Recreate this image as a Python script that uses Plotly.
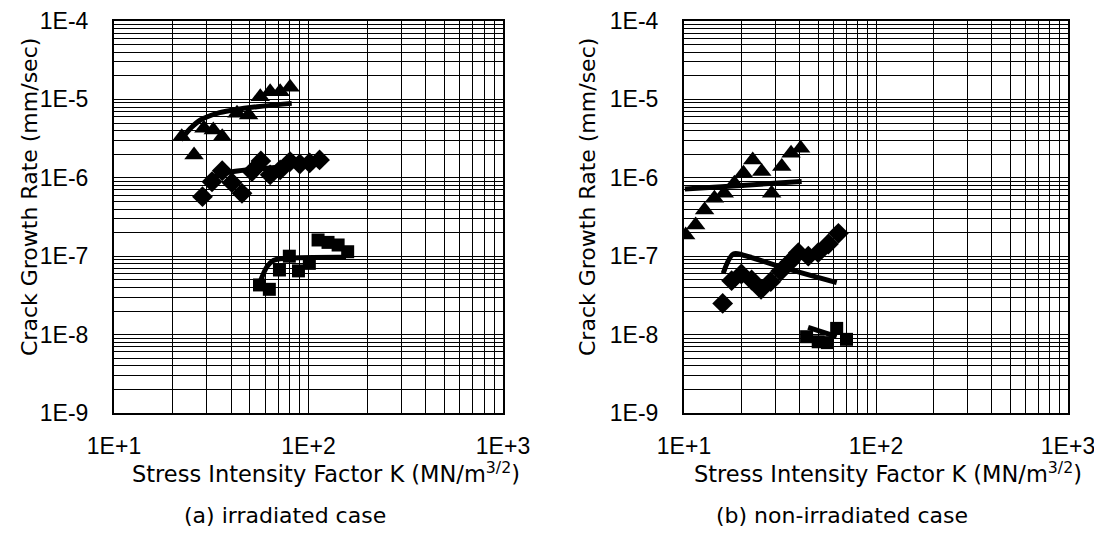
import plotly.graph_objects as go

# ---------------- data ----------------
# (a) irradiated case
a_tri_k = [22.3, 25.8, 29.0, 32.4, 36.0, 42.9, 49.2, 56.5, 63.5, 71.5, 80.4]
a_tri_v = [3.34e-6, 1.95e-6, 4.3e-6, 4.07e-6, 3.34e-6, 6.65e-6, 6.33e-6, 1.08e-5, 1.25e-5, 1.25e-5, 1.43e-5]
a_tri_fit_k = [22.0, 24.8, 27.8, 33.9, 41.2, 54.3, 82.0]
a_tri_fit_v = [3.03e-6, 4.3e-6, 5.46e-6, 6.65e-6, 7.33e-6, 8.07e-6, 8.9e-6]

a_dia_k = [28.5, 31.9, 36.0, 40.4, 45.5, 51.2, 56.9, 63.5, 71.5, 80.4, 90.2, 101.4, 114.0]
a_dia_v = [5.74e-7, 8.9e-7, 1.23e-6, 8.66e-7, 6.34e-7, 1.2e-6, 1.64e-6, 1.09e-6, 1.26e-6, 1.61e-6, 1.5e-6, 1.55e-6, 1.69e-6]
a_dia_fit_k = [31.9, 41.2, 61.1, 114.0]
a_dia_fit_v = [1.03e-6, 1.2e-6, 1.32e-6, 1.53e-6]

a_sq_k = [56.0, 62.9, 70.9, 79.7, 88.8, 101.0, 112.0, 126.0, 142.0, 159.0]
a_sq_v = [4.3e-8, 3.78e-8, 6.67e-8, 1.0e-7, 6.5e-8, 8.1e-8, 1.61e-7, 1.5e-7, 1.39e-7, 1.14e-7]
a_sq_fit_k = [56.5, 61.1, 66.0, 77.4, 156.0]
a_sq_fit_v = [4.73e-8, 7.3e-8, 8.8e-8, 9.4e-8, 9.7e-8]

# (b) non-irradiated case
b_tri_k = [10.2, 11.5, 12.8, 14.4, 16.2, 18.3, 20.4, 22.8, 25.4, 28.6, 32.3, 36.1, 40.5]
b_tri_v = [1.86e-7, 2.5e-7, 3.88e-7, 5.47e-7, 6.34e-7, 8.5e-7, 1.14e-6, 1.69e-6, 1.2e-6, 6.34e-7, 1.39e-6, 2.05e-6, 2.38e-6]
b_tri_fit_k = [10.1, 20.0, 41.0]
b_tri_fit_v = [7.2e-7, 8.0e-7, 9.0e-7]

b_dia_k = [15.9, 17.7, 19.9, 22.5, 25.2, 28.3, 31.9, 35.7, 39.4, 44.4, 50.0, 56.5, 63.7]
b_dia_v = [2.5e-8, 4.88e-8, 5.93e-8, 4.97e-8, 3.78e-8, 4.73e-8, 6.47e-8, 8.5e-8, 1.11e-7, 1.0e-7, 1.11e-7, 1.43e-7, 1.96e-7]
b_dia_fit_k = [16.0, 18.1, 20.4, 31.6, 62.4]
b_dia_fit_v = [6.05e-8, 1.07e-7, 1.03e-7, 7.35e-8, 4.6e-8]

b_sq_k = [43.5, 50.0, 55.9, 62.4, 70.2]
b_sq_v = [9.4e-9, 8.1e-9, 7.9e-9, 1.2e-8, 8.7e-9]
b_sq_fit_k = [44.3, 62.4]
b_sq_fit_v = [1.24e-8, 9.4e-9]

# tick labels
x_decades = [10, 100, 1000]
x_labels = ["1E+1", "1E+2", "1E+3"]
y_decades = [1e-9, 1e-8, 1e-7, 1e-6, 1e-5, 1e-4]
y_labels = ["1E-9", "1E-8", "1E-7", "1E-6", "1E-5", "1E-4"]

y_title = "Crack Growth Rate (mm/sec)"
x_title = "Stress Intensity Factor K (MN/m<sup>3/2</sup>)"
captions = ["(a) irradiated case", "(b) non-irradiated case"]

# ---------------- figure ----------------
OFF = 8                      # default page-body margin of the html page
W, H = 1102 - OFF, 548 - OFF
TICKFONT = "Liberation Sans, Arial, sans-serif"
TITLEFONT = "DejaVu Sans, sans-serif"


def minor_vals(decades):
    vals = []
    for d in decades[:-1]:
        for m in range(2, 10):
            vals.append(d * m)
    return vals


fig = go.Figure()

panels = [
    (dict(tri=(a_tri_k, a_tri_v), dia=(a_dia_k, a_dia_v), sq=(a_sq_k, a_sq_v),
          fits=[(a_tri_fit_k, a_tri_fit_v), (a_dia_fit_k, a_dia_fit_v), (a_sq_fit_k, a_sq_fit_v)]),
     "x", "y"),
    (dict(tri=(b_tri_k, b_tri_v), dia=(b_dia_k, b_dia_v), sq=(b_sq_k, b_sq_v),
          fits=[(b_tri_fit_k, b_tri_fit_v), (b_dia_fit_k, b_dia_fit_v), (b_sq_fit_k, b_sq_fit_v)]),
     "x2", "y2"),
]

for p, xa, ya in panels:
    for fk, fv in p["fits"]:
        fig.add_trace(go.Scatter(x=fk, y=fv, mode="lines", xaxis=xa, yaxis=ya,
                                 line=dict(color="black", width=5, shape="spline"), showlegend=False))
    fig.add_trace(go.Scatter(x=p["tri"][0], y=p["tri"][1], mode="markers", xaxis=xa, yaxis=ya,
                             marker=dict(symbol="triangle-up", size=17, color="black"), showlegend=False))
    fig.add_trace(go.Scatter(x=p["dia"][0], y=p["dia"][1], mode="markers", xaxis=xa, yaxis=ya,
                             marker=dict(symbol="diamond", size=16, color="black"), showlegend=False))
    fig.add_trace(go.Scatter(x=p["sq"][0], y=p["sq"][1], mode="markers", xaxis=xa, yaxis=ya,
                             marker=dict(symbol="square", size=13, color="black"), showlegend=False))


def px_x(p):
    return (p - OFF) / W


def px_y(p):
    return 1 - (p - OFF) / H


common_x = dict(type="log", range=[1, 3], tickmode="array", tickvals=x_decades, ticktext=x_labels,
                showgrid=True, gridcolor="black", gridwidth=1.3, showline=True, linecolor="black",
                linewidth=2, mirror=True, ticks="", ticklabelstandoff=11, automargin=False,
                minor=dict(tickmode="array", tickvals=minor_vals(x_decades), showgrid=True,
                           gridcolor="black", gridwidth=1.2, ticks=""),
                tickfont=dict(family=TICKFONT, size=23, color="black"), zeroline=False)
common_y = dict(type="log", range=[-9, -4], tickmode="array", tickvals=y_decades, ticktext=y_labels,
                showgrid=True, gridcolor="black", gridwidth=1.3, showline=True, linecolor="black",
                linewidth=2, mirror=True, ticks="", ticklabelstandoff=19, automargin=False,
                minor=dict(tickmode="array", tickvals=minor_vals(y_decades), showgrid=True,
                           gridcolor="black", gridwidth=1.2, ticks=""),
                tickfont=dict(family=TICKFONT, size=23, color="black"), zeroline=False)

fig.update_layout(
    width=W, height=H,
    margin=dict(l=0, r=0, t=0, b=0),
    paper_bgcolor="white", plot_bgcolor="white",
    xaxis=dict(common_x, domain=[px_x(114), px_x(503)], anchor="y"),
    yaxis=dict(common_y, domain=[px_y(413), px_y(21)], anchor="x"),
    xaxis2=dict(common_x, domain=[px_x(684), px_x(1068)], anchor="y2"),
    yaxis2=dict(common_y, domain=[px_y(413), px_y(21)], anchor="x2"),
)

for xc in [29, 587]:
    fig.add_annotation(x=px_x(xc), y=px_y(197), xref="paper", yref="paper", text=y_title,
                       textangle=-90, showarrow=False,
                       font=dict(family=TITLEFONT, size=22, color="black"),
                       xanchor="center", yanchor="middle")
for xc in [326, 888]:
    fig.add_annotation(x=px_x(xc), y=px_y(472), xref="paper", yref="paper", text=x_title,
                       showarrow=False, font=dict(family=TITLEFONT, size=22.5, color="black"),
                       xanchor="center", yanchor="middle")
for xc, cap in zip([285, 842], captions):
    fig.add_annotation(x=px_x(xc), y=px_y(515), xref="paper", yref="paper", text=cap,
                       showarrow=False, font=dict(family=TITLEFONT, size=22, color="black"),
                       xanchor="center", yanchor="middle")

fig.write_html("out.html")
